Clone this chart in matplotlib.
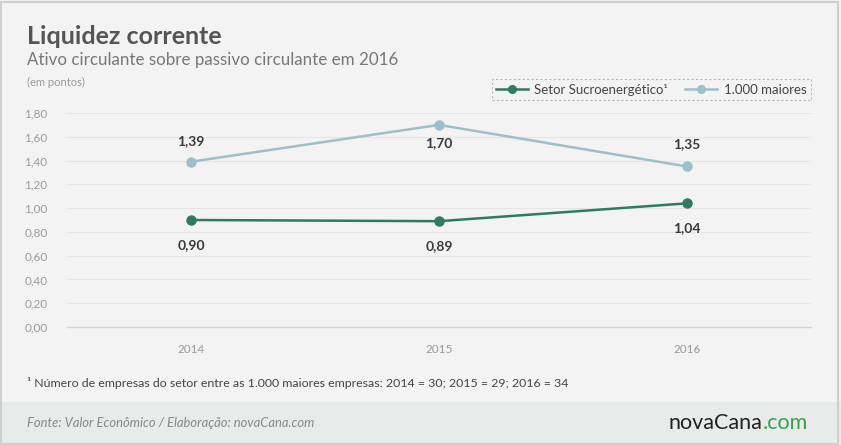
import matplotlib
matplotlib.use("Agg")
import matplotlib.pyplot as plt
from matplotlib.patches import Rectangle
from matplotlib.lines import Line2D

years = ["2014", "2015", "2016"]
setor = [0.90, 0.89, 1.04]
maiores = [1.39, 1.70, 1.35]
setor_labels = ["0,90", "0,89", "1,04"]
maiores_labels = ["1,39", "1,70", "1,35"]
yticks = [0.0, 0.2, 0.4, 0.6, 0.8, 1.0, 1.2, 1.4, 1.6, 1.8]
ytick_labels = ["0,00", "0,20", "0,40", "0,60", "0,80", "1,00", "1,20", "1,40", "1,60", "1,80"]

GREEN = "#2f7a63"
BLUE = "#9dc0ca"
BG = "#f3f3f3"
FOOT = "#e9eaea"

plt.rcParams['font.family'] = ['Lato', 'DejaVu Sans']

W, H = 841, 445
fig = plt.figure(figsize=(W / 100, H / 100), dpi=100)
fig.patch.set_facecolor(BG)

# footer band
fig.add_artist(Rectangle((0, 0), 1, 43 / H, transform=fig.transFigure,
                         facecolor=FOOT, edgecolor="none", zorder=0))
# outer border
fig.add_artist(Rectangle((1 / W, 1 / H), 1 - 4 / W, 1 - 3 / H, transform=fig.transFigure,
                         facecolor="none", edgecolor="#cfcfcf", lw=1.5, zorder=10))

ax = fig.add_axes([67 / W, 1 - 327 / H, (811 - 67) / W, (327 - 113) / H])
ax.set_facecolor(BG)
x = list(range(len(years)))
ax.plot(x, setor, color=GREEN, lw=1.8, marker="o", ms=6.5, zorder=3)
ax.plot(x, maiores, color=BLUE, lw=1.8, marker="o", ms=6.5, zorder=3)

ax.set_xlim(-0.5, len(years) - 0.5)
ax.set_ylim(0, 1.8)
ax.set_yticks(yticks)
ax.set_yticklabels(ytick_labels)
ax.set_xticks(x)
ax.set_xticklabels(years)
ax.tick_params(axis="both", length=0, labelsize=8.5, labelcolor="#9a9a9a")
ax.tick_params(axis="y", pad=14)
ax.tick_params(axis="x", pad=12)
ax.yaxis.grid(True, color="#e5e5e5", lw=0.8)
ax.set_axisbelow(True)
for s in ["top", "right", "left"]:
    ax.spines[s].set_visible(False)
ax.spines["bottom"].set_color("#d4d4d4")
ax.spines["bottom"].set_linewidth(1.0)
ax.spines["bottom"].set_zorder(1)

# data labels
offs_m = [15, -13, 16]
for i, (v, lab) in enumerate(zip(maiores, maiores_labels)):
    ax.annotate(lab, (i, v), xytext=(0, offs_m[i]), textcoords="offset points",
                ha="center", va="center", fontsize=10, fontweight="bold", color="#3a3a3a")
for i, (v, lab) in enumerate(zip(setor, setor_labels)):
    ax.annotate(lab, (i, v), xytext=(0, -18), textcoords="offset points",
                ha="center", va="center", fontsize=10, fontweight="bold", color="#3a3a3a")

# legend
handles = [Line2D([], [], color=GREEN, lw=1.8, marker="o", ms=5.5),
           Line2D([], [], color=BLUE, lw=1.8, marker="o", ms=5.5)]
leg = fig.legend(handles, ["Setor Sucroenergético¹", "1.000 maiores"], ncol=2,
                 loc="center right", bbox_to_anchor=(811 / W, 1 - 89.5 / H),
                 fontsize=9.5, frameon=True, fancybox=False, handlelength=2.4,
                 handletextpad=0.5, columnspacing=1.3, borderpad=0.35, borderaxespad=0)
fr = leg.get_frame()
fr.set_facecolor(BG)
fr.set_edgecolor("#aaaaaa")
fr.set_linestyle((0, (2, 2)))
fr.set_linewidth(0.8)
for t in leg.get_texts():
    t.set_color("#444444")

# titles
fig.text(27 / W, 1 - 37 / H, "Liquidez corrente", fontsize=18, fontweight="bold",
         color="#555555", va="center", ha="left")
fig.text(27 / W, 1 - 60 / H, "Ativo circulante sobre passivo circulante em 2016", fontsize=12.2,
         color="#777777", va="center", ha="left")
fig.text(27 / W, 1 - 82 / H, "(em pontos)", fontsize=8, color="#999999", va="center", ha="left")

# footnote
fig.text(27 / W, 1 - 383 / H,
         "¹ Número de empresas do setor entre as 1.000 maiores empresas: 2014 = 30; 2015 = 29; 2016 = 34",
         fontsize=8.9, color="#444444", va="center", ha="left")

# footer
fig.text(27 / W, 1 - 423 / H, "Fonte: Valor Econômico / Elaboração: novaCana.com", fontsize=9.4,
         style="italic", color="#888888", va="center", ha="left")
t1 = fig.text(808 / W, 1 - 423 / H, ".com", fontsize=15.5, color="#3aa047", va="center", ha="right")
fig.canvas.draw()
bb = t1.get_window_extent()
fig.text(bb.x0 / W, 1 - 423 / H, "novaCana", fontsize=15.5, color="#222222", va="center", ha="right")

fig.savefig("out.png", dpi=100, facecolor=BG)
